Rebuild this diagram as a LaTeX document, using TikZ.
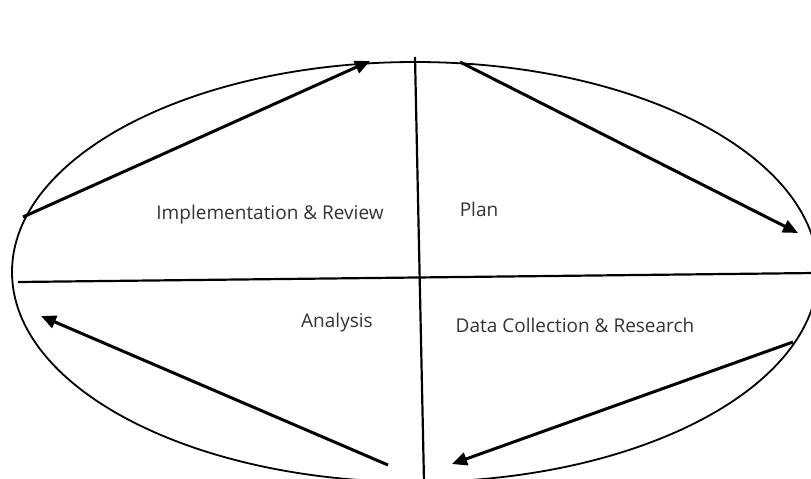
\documentclass[tikz,border=0pt]{standalone}
\usepackage{fontspec}
\setmainfont{Open Sans}
\usetikzlibrary{arrows.meta}
\begin{document}
\begin{tikzpicture}[x=1pt,y=-1pt,
  lbl/.style={font=\fontsize{19}{22}\selectfont, text=black!80, inner sep=0pt},
  flow/.style={line width=3pt, -{Triangle[length=15pt,width=13pt]}},
  divider/.style={line width=2.2pt},
  rim/.style={line width=1.8pt}]
\useasboundingbox (0,0) rectangle (811,479);
\clip (0,0) rectangle (811,479);
\draw[rim] (415,272) ellipse [x radius=403, y radius=210];
\coordinate (hL) at (18,282);
\coordinate (hR) at (815,273);
\coordinate (vT) at (415,57);
\coordinate (vB) at (424,482);
\draw[divider] (hL) -- (hR);
\draw[divider] (vT) -- (vB);
\coordinate (a1s) at (23,217);  \coordinate (a1e) at (370,61);
\coordinate (a2s) at (460,62);  \coordinate (a2e) at (798,233);
\coordinate (a3s) at (793,342); \coordinate (a3e) at (452,464);
\coordinate (a4s) at (388,465); \coordinate (a4e) at (41,316);
\draw[flow] (a1s) -- (a1e);
\draw[flow] (a2s) -- (a2e);
\draw[flow] (a3s) -- (a3e);
\draw[flow] (a4s) -- (a4e);
\node[lbl] (impl) at (270,215) {Implementation \& Review};
\node[lbl] (plan) at (479,209) {Plan};
\node[lbl] (anal) at (337,323) {Analysis};
\node[lbl] (data) at (575,325) {Data Collection \& Research};
\end{tikzpicture}
\end{document}
